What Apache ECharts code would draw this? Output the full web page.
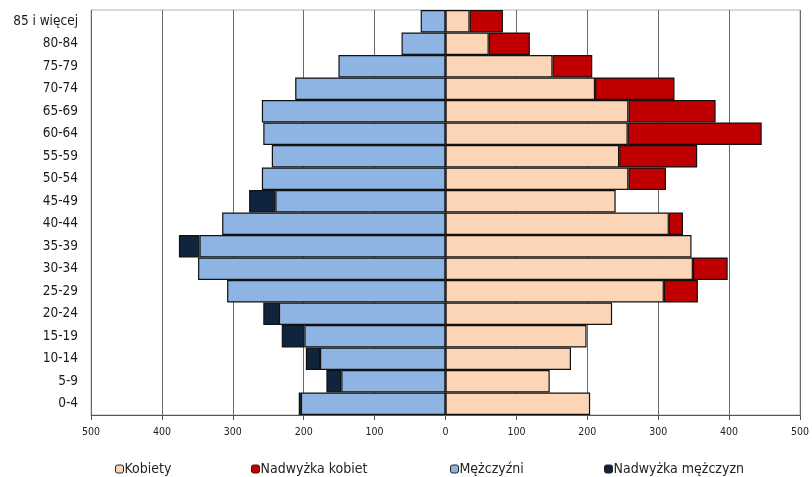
<!DOCTYPE html>
<html><head><meta charset="utf-8">
<script src="https://cdn.jsdelivr.net/npm/echarts@6/dist/echarts.min.js"></script>
<style>html,body{margin:0;padding:0;background:#fff}#c{width:812px;height:477px}</style>
</head><body><div id="c"></div>
<script>
const categories = ['0-4','5-9','10-14','15-19','20-24','25-29','30-34','35-39','40-44','45-49','50-54','55-59','60-64','65-69','70-74','75-79','80-84','85 i więcej'];
const kobiety        = [204,147,177,199,235,308,349,347,315,240,258,245,257,258,211,151,61,34];
const nadwyzkaKobiet = [0,0,0,0,0,48,49,0,20,0,53,110,189,123,112,56,58,47];
const mezczyzni      = [204,147,177,199,235,308,349,347,315,240,259,245,257,259,212,151,62,35];
const nadwyzkaMezczyzn = [3,21,20,32,22,0,0,29,0,37,0,0,0,0,0,0,0,0];
const xTicks = [-500,-400,-300,-200,-100,0,100,200,300,400,500];
const legendNames = ['Kobiety','Nadwyżka kobiet','Mężczyźni','Nadwyżka mężczyzn'];

const FONT = 'DejaVu Sans Condensed';
const pos = a => a.map(v => v === 0 ? '-' : v);
const neg = a => a.map(v => v === 0 ? '-' : -v);
const border = {borderColor:'#111', borderWidth:1.2};
const legendLeft = [115, 251, 450, 604];

const chart = echarts.init(document.getElementById('c'));
chart.setOption({
  animation:false,
  grid:{left:91,right:9,top:10,bottom:62,show:true,borderColor:'#b0b0b0',borderWidth:1},
  legend: legendNames.map((n,i)=>({
    left:legendLeft[i], top:462, padding:0, itemWidth:8, itemHeight:8,
    textStyle:{fontFamily:FONT,fontSize:14,color:'#222',padding:[0,0,0,-4]},
    itemStyle:{borderColor:'#222',borderWidth:1},
    data:[n]
  })),
  xAxis:{
    type:'value', min:xTicks[0], max:xTicks[xTicks.length-1], interval:100,
    axisLine:{show:true,lineStyle:{color:'#555'}},
    axisTick:{show:true,length:5,lineStyle:{color:'#555'}},
    axisLabel:{fontFamily:FONT,fontSize:10.5,color:'#222',margin:12,formatter:v=>Math.abs(v)},
    splitLine:{show:true,lineStyle:{color:'#6a6a6a',width:1}}
  },
  yAxis:{
    type:'category', data:categories,
    axisLine:{show:false}, axisTick:{show:false},
    axisLabel:{fontFamily:FONT,fontSize:13.5,color:'#1a1a1a',margin:13}
  },
  series:[
    {name:'Kobiety',type:'bar',stack:'a',barCategoryGap:0,data:pos(kobiety),itemStyle:Object.assign({color:'#FBD5B5'},border)},
    {name:'Nadwyżka kobiet',type:'bar',stack:'a',barCategoryGap:0,data:pos(nadwyzkaKobiet),itemStyle:Object.assign({color:'#C00000'},border)},
    {name:'Mężczyźni',type:'bar',stack:'a',barCategoryGap:0,data:neg(mezczyzni),itemStyle:Object.assign({color:'#8EB4E3'},border)},
    {name:'Nadwyżka mężczyzn',type:'bar',stack:'a',barCategoryGap:0,data:neg(nadwyzkaMezczyzn),itemStyle:Object.assign({color:'#10243E'},border)}
  ]
});
</script></body></html>
